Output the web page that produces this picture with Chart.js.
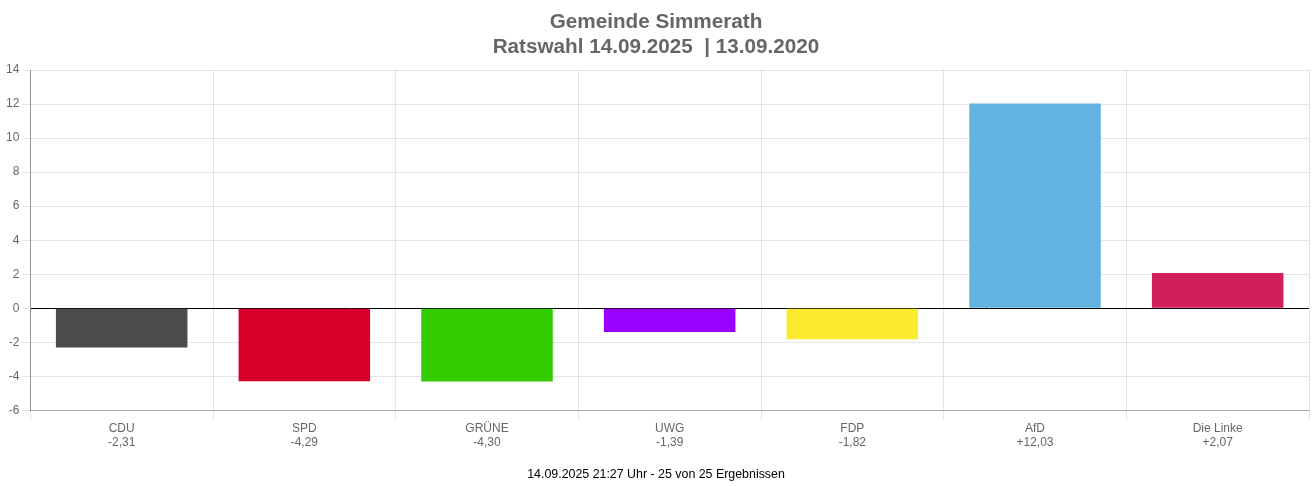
<!DOCTYPE html>
<html>
<head>
<meta charset="utf-8">
<script src="https://cdn.jsdelivr.net/npm/chart.js@4/dist/chart.umd.min.js"></script>
<style>
html,body{margin:0;padding:0;background:#fff;}
#wrap{width:1312px;height:486px;}
</style>
</head>
<body>
<div id="wrap"><canvas id="c" width="1312" height="486"></canvas></div>
<script>
const parties = ["CDU", "SPD", "GRÜNE", "UWG", "FDP", "AfD", "Die Linke"];
const diffs = [-2.31, -4.29, -4.30, -1.39, -1.82, 12.03, 2.07];
const barColors = ["#4b4b4b", "#d7002a", "#33cc00", "#9900ff", "#fbeb2e", "#63b3e0", "#d21f5c"];
const titleLines = ["Gemeinde Simmerath", "Ratswahl 14.09.2025  | 13.09.2020"];
const footerText = "14.09.2025 21:27 Uhr - 25 von 25 Ergebnissen";
const yMin = -6, yMax = 14, yStep = 2;

function fmt(v) {
  const s = Math.abs(v).toFixed(2).replace(".", ",");
  return (v > 0 ? "+" : "-") + s;
}

Chart.defaults.font.family = "'Liberation Sans', Arial, sans-serif";
Chart.defaults.font.size = 12;
Chart.defaults.color = "#666";

new Chart(document.getElementById("c"), {
  type: "bar",
  data: {
    labels: parties.map((p, i) => [p, fmt(diffs[i])]),
    datasets: [{
      data: diffs,
      backgroundColor: barColors,
      borderWidth: 0
    }]
  },
  options: {
    responsive: false,
    animation: false,
    layout: { padding: { left: 3, right: 3, top: 0, bottom: 2 } },
    plugins: {
      legend: { display: false },
      tooltip: { enabled: false },
      title: {
        display: true,
        text: titleLines,
        color: "#666",
        font: { size: 20.7, weight: "bold", lineHeight: 1.21 },
        padding: { top: 9.5, bottom: 10.5 }
      },
      subtitle: {
        display: true,
        position: "bottom",
        text: footerText,
        color: "#000",
        font: { size: 12.4 },
        padding: { top: 16, bottom: 2 }
      }
    },
    scales: {
      x: {
        grid: { color: "rgba(0,0,0,0.1)", offset: true, drawTicks: true, tickLength: 10 },
        border: { color: "rgba(0,0,0,0.25)" },
        ticks: { color: "#666", padding: 1 }
      },
      y: {
        min: yMin,
        max: yMax,
        ticks: { stepSize: yStep, color: "#666", padding: 3 },
        grid: {
          color: ctx => (ctx.tick && ctx.tick.value === 0) ? "#000" : "rgba(0,0,0,0.1)",
          tickColor: "rgba(0,0,0,0.1)"
        },
        border: { color: "rgba(0,0,0,0.35)" }
      }
    }
  }
});
</script>
</body>
</html>
